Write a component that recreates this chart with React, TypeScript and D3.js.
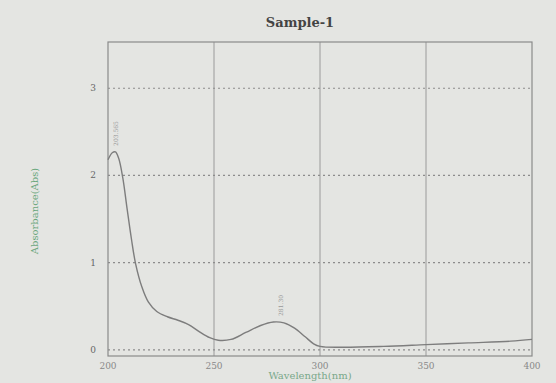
import React, { useEffect, useRef } from 'react'
import * as d3 from 'd3'

// spectrum (wavelength nm, absorbance)
const wavelengths = [200, 202, 203.5, 205, 207, 209, 211, 213, 216, 219, 223, 228, 233, 238, 243, 248, 252, 258, 265, 272, 278, 283, 288, 293, 297, 300, 310, 330, 350, 370, 390, 400]
const absorbance = [2.18, 2.26, 2.27, 2.2, 1.97, 1.62, 1.28, 0.99, 0.72, 0.55, 0.44, 0.38, 0.34, 0.29, 0.21, 0.14, 0.11, 0.12, 0.2, 0.28, 0.32, 0.31, 0.25, 0.15, 0.07, 0.04, 0.03, 0.04, 0.06, 0.08, 0.1, 0.12]
const xTicks = [200, 250, 300, 350, 400]
const yTicks = [0, 1, 2, 3]
const peaks = [{ wl: 203.5, abs: 2.27, label: '203.565' }, { wl: 281, abs: 0.32, label: '281.30' }]

export default function App() {
  const ref = useRef<SVGSVGElement>(null)

  useEffect(() => {
    const width = 556, height = 383
    const margin = { top: 42, right: 24, bottom: 27, left: 108 }
    const svg = d3.select(ref.current)
    svg.selectAll('*').remove()

    const x = d3.scaleLinear([200, 400], [margin.left, width - margin.right])
    const y = d3.scaleLinear([-0.07, 3.53], [height - margin.bottom, margin.top])
    const font = 'DejaVu Serif, Liberation Serif, serif'

    svg.append('rect').attr('width', width).attr('height', height).attr('fill', '#e4e5e2')

    // vertical grid
    svg.append('g').selectAll('line')
      .data(xTicks.slice(1, -1))
      .join('line')
      .attr('x1', d => x(d)).attr('x2', d => x(d))
      .attr('y1', margin.top).attr('y2', height - margin.bottom)
      .attr('stroke', '#9a9a9a').attr('stroke-width', 1)

    // horizontal dotted grid
    svg.append('g').selectAll('line')
      .data(yTicks)
      .join('line')
      .attr('x1', margin.left).attr('x2', width - margin.right)
      .attr('y1', d => y(d)).attr('y2', d => y(d))
      .attr('stroke', '#8c8c8c').attr('stroke-width', 1.2)
      .attr('stroke-dasharray', '2,3')

    svg.append('rect')
      .attr('x', margin.left).attr('y', margin.top)
      .attr('width', width - margin.left - margin.right)
      .attr('height', height - margin.top - margin.bottom)
      .attr('fill', 'none').attr('stroke', '#8a8a8a').attr('stroke-width', 1.2)

    svg.append('g').selectAll('text')
      .data(yTicks)
      .join('text')
      .attr('x', margin.left - 12).attr('y', d => y(d) + 3)
      .attr('text-anchor', 'end')
      .attr('font-family', font).attr('font-size', 9).attr('fill', '#666')
      .text(d => d)

    svg.append('g').selectAll('text')
      .data(xTicks)
      .join('text')
      .attr('x', d => x(d)).attr('y', height - margin.bottom + 13)
      .attr('text-anchor', 'middle')
      .attr('font-family', font).attr('font-size', 9).attr('fill', '#888')
      .text(d => d)

    const data = wavelengths.map((w, i) => [w, absorbance[i]] as [number, number])
    const line = d3.line<[number, number]>()
      .x(d => x(d[0])).y(d => y(d[1]))
      .curve(d3.curveCatmullRom.alpha(0.5))
    svg.append('path')
      .attr('d', line(data))
      .attr('fill', 'none').attr('stroke', '#7d7d7d').attr('stroke-width', 1.4)

    svg.append('g').selectAll('text')
      .data(peaks)
      .join('text')
      .attr('transform', d => `translate(${x(d.wl) + 3},${y(d.abs) - 6}) rotate(-90)`)
      .attr('font-family', font).attr('font-size', 6).attr('fill', '#999')
      .text(d => d.label)

    svg.append('text')
      .attr('x', 300).attr('y', 27)
      .attr('text-anchor', 'middle')
      .attr('font-family', font).attr('font-weight', 'bold').attr('font-size', 13).attr('fill', '#444')
      .text('Sample-1')

    svg.append('text')
      .attr('transform', `translate(38,${(margin.top + height - margin.bottom) / 2 + 12}) rotate(-90)`)
      .attr('text-anchor', 'middle')
      .attr('font-family', font).attr('font-size', 10).attr('fill', '#6aa77c')
      .text('Absorbance(Abs)')

    svg.append('text')
      .attr('x', 310).attr('y', height - 4)
      .attr('text-anchor', 'middle')
      .attr('font-family', font).attr('font-size', 10).attr('fill', '#7aa88a')
      .text('Wavelength(nm)')
  }, [])

  return <div style={{ position: 'absolute', left: 0, top: 0 }}>
    <svg ref={ref} width={556} height={383} style={{ display: 'block' }} />
  </div>
}
